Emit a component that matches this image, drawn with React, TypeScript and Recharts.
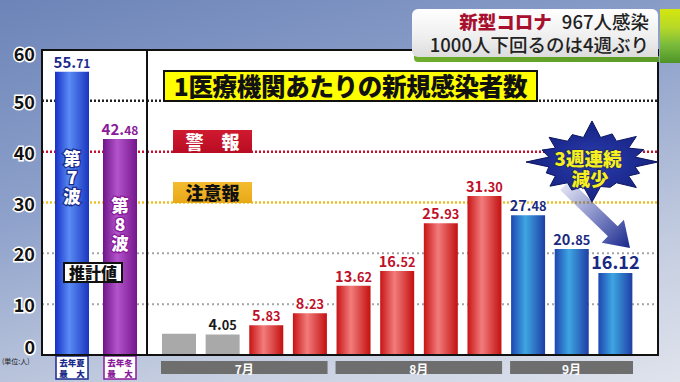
import { BarChart, Bar, XAxis, YAxis, CartesianGrid, Cell, LabelList } from 'recharts'

// left panel: last year's peaks
const waveNames = ['第7波', '第8波']
const waveCaps = [['去年夏', '最　大'], ['去年冬', '最　大']]
const waveValues = [55.71, 42.48]

// right panel: weekly figures
const weeks = ['7月1', '7月2', '7月3', '7月4', '8月1', '8月2', '8月3', '8月4', '9月1', '9月2', '9月3']
const weekMonths = ['7月', '7月', '7月', '7月', '8月', '8月', '8月', '8月', '9月', '9月', '9月']
const weekValues = [4.2, 4.05, 5.83, 8.23, 13.62, 16.52, 25.93, 31.3, 27.48, 20.85, 16.12]
const weekTrend = ['base', 'base', 'up', 'up', 'up', 'up', 'up', 'up', 'down', 'down', 'down']
const weekLabeled = [false, true, true, true, true, true, true, true, true, true, true]

const yTicks = [0, 10, 20, 30, 40, 50, 60]

const FONT = "'Noto Sans CJK JP', 'Noto Sans', sans-serif"
const H = 382
const TOP = 50
const AX_H = 27
const A_W = 147
const B_W = 511
const PAD_L = 10, PAD_R = 21
const STEP = (B_W - PAD_L - PAD_R) / weeks.length

const waveFill = ['url(#gW7)', 'url(#gW8)']
const waveInk = ['#1a2a8c', '#8a1a9a']
const trendFill: Record<string, string> = { base: '#a9a9a9', up: 'url(#gRed)', down: 'url(#gBlue)' }
const trendInk: Record<string, string> = { base: '#1a1a1a', up: '#c0102a', down: '#1a2a80' }

const waveData = waveNames.map((n, i) => ({ name: n, v: waveValues[i] }))
const weekData = weeks.map((w, i) => ({ week: w, v: weekValues[i] }))

function YTick(p: any) {
  const v = p.payload.value
  const dy = v === 0 ? -9 : v === 60 ? 3 : 0
  return (
    <text x={35} y={p.y + dy} textAnchor="end" dominantBaseline="central" fontFamily={FONT}
      fontSize={18} fontWeight={700} fill="#111" stroke="#fff" strokeWidth={3} paintOrder="stroke">{v}</text>
  )
}

function WaveTick(p: any) {
  const i = p.index ?? p.payload?.index ?? 0
  const c = waveInk[i]
  return (
    <g fontFamily={FONT}>
      <rect x={p.x - 16} y={356} width={32} height={23} fill="#fff" stroke={c} strokeWidth={1.5} />
      <text x={p.x} y={366} textAnchor="middle" fontSize={8.5} fontWeight={900} fill={c}>{waveCaps[i][0]}</text>
      <text x={p.x} y={377} textAnchor="middle" fontSize={8.5} fontWeight={900} fill={c}>{waveCaps[i][1]}</text>
    </g>
  )
}

// month band: the label is drawn by the last week of each month so later bands don't cover it
function MonthTick(p: any) {
  const i = p.index ?? p.payload?.index ?? 0
  const m = weekMonths[i]
  const first = i === 0 || weekMonths[i - 1] !== m
  const last = i === weekMonths.length - 1 || weekMonths[i + 1] !== m
  const x0 = p.x - STEP / 2 + (first ? 4 : -0.5)
  const x1 = p.x + STEP / 2 - (last ? 4 : -0.5)
  let n = 0
  if (last) for (let k = i; k >= 0 && weekMonths[k] === m; k--) n++
  return (
    <g fontFamily={FONT}>
      <rect x={x0} y={361} width={x1 - x0} height={13} fill="#6e6e6e" />
      {last && (
        <text x={p.x - ((n - 1) * STEP) / 2} y={368} textAnchor="middle" dominantBaseline="central"
          fontSize={12} fontWeight={700} fill="#fff">{m}</text>
      )}
    </g>
  )
}

function numText(v: number, x: number, y: number, size: number, ink: string, small: number) {
  const [a, b] = v.toFixed(2).split('.')
  return (
    <text x={x} y={y} textAnchor="middle" fontFamily={FONT} fontWeight={700} fill={ink}
      stroke="#fff" strokeWidth={2} paintOrder="stroke">
      <tspan fontSize={size}>{a}.</tspan>
      <tspan fontSize={size * small}>{b}</tspan>
    </text>
  )
}

function WaveValue(p: any) {
  const i = waveValues.indexOf(p.value)
  return numText(p.value, p.x + p.width / 2, p.y - 4, 15, waveInk[i], 0.8)
}

// vertical name written down the bar, one glyph per line
function WaveName(p: any) {
  const i = waveNames.indexOf(p.value)
  const chars = [...String(p.value)]
  const cx = p.x + p.width / 2
  const y0 = p.y + p.height * 0.3
  return (
    <text x={cx} y={y0} textAnchor="middle" dominantBaseline="central" fontFamily={FONT}
      fontSize={17.5} fontWeight={900} fill="#fff" stroke={waveInk[i]} strokeWidth={2.5} paintOrder="stroke">
      {chars.map((ch, k) => (
        <tspan key={k} x={cx} dy={k === 0 ? 0 : 19}>{ch}</tspan>
      ))}
    </text>
  )
}

function WeekValue(p: any) {
  const i = weekValues.indexOf(p.value)
  if (!weekLabeled[i]) return null
  const latest = i === weekValues.length - 1
  return numText(p.value, p.x + p.width / 2, p.y - 4, latest ? 18 : 14.5, trendInk[weekTrend[i]], latest ? 1 : 0.88)
}

function Grid() {
  return [
    <CartesianGrid key="g1" vertical={false} horizontalValues={[10, 20]} stroke="#a5a5a5" strokeWidth={2} strokeDasharray="2 3" />,
    <CartesianGrid key="g2" vertical={false} horizontalValues={[30]} stroke="#eec020" strokeWidth={2.5} strokeDasharray="2 2" />,
    <CartesianGrid key="g3" vertical={false} horizontalValues={[40]} stroke="#c8102e" strokeWidth={2.5} strokeDasharray="2 2" />,
    <CartesianGrid key="g4" vertical={false} horizontalValues={[50]} stroke="#222" strokeWidth={2.5} strokeDasharray="2 2" />,
  ]
}

function hGrad(id: string, edge: string, hi: string, edge2: string) {
  return (
    <linearGradient id={id} x1="0" y1="0" x2="1" y2="0">
      <stop offset="0%" stopColor={edge} />
      <stop offset="42%" stopColor={hi} />
      <stop offset="100%" stopColor={edge2} />
    </linearGradient>
  )
}

function Callout() {
  const cx = 592, cy = 162
  const k = [1, 0.78, 0.95, 0.72, 1.05, 0.8, 0.9, 0.75, 1, 0.82, 0.92, 0.78, 1.08, 0.8, 0.95, 0.85]
  const pts: string[] = []
  k.forEach((r, j) => {
    const a0 = (j / k.length) * Math.PI * 2
    const a1 = ((j + 0.5) / k.length) * Math.PI * 2
    pts.push(`${cx + Math.cos(a0) * 66 * r},${cy + Math.sin(a0) * 38 * r}`)
    pts.push(`${cx + Math.cos(a1) * 44},${cy + Math.sin(a1) * 25}`)
  })
  return (
    <svg width={680} height={382} style={{ position: 'absolute', left: 0, top: 0, pointerEvents: 'none' }}>
      <defs>
        <linearGradient id="gArrow" gradientUnits="userSpaceOnUse" x1={565} y1={185} x2={630} y2={248}>
          <stop offset="0%" stopColor="#2a3aa8" stopOpacity={0.15} />
          <stop offset="100%" stopColor="#18268a" />
        </linearGradient>
        <radialGradient id="gStar" cx="50%" cy="50%" r="60%">
          <stop offset="0%" stopColor="#2a3cb0" />
          <stop offset="100%" stopColor="#121e78" />
        </radialGradient>
      </defs>
      <polygon points="569.9,180 617.7,226.3 623.9,219.8 630,248 601.7,242.8 607.9,236.3 560.1,190" fill="url(#gArrow)" />
      <polygon points={pts.join(' ')} fill="url(#gStar)" stroke="#0c1560" strokeWidth={1} />
      <g fontFamily={FONT} fontWeight={900} fill="#f6f020" stroke="#202a70" strokeWidth={2} paintOrder="stroke" textAnchor="middle">
        <text x={588} y={166} fontSize={18.5}>3週連続</text>
        <text x={590} y={186} fontSize={18.5}>減少</text>
      </g>
    </svg>
  )
}

export default function App() {
  return (
    <div style={{
      position: 'absolute', left: 0, top: 0, width: 680, height: H, overflow: 'hidden', fontFamily: FONT,
      background: 'linear-gradient(165deg, #6c84b8 0%, #8fa2cb 40%, #c4cde0 75%, #dfe3ec 100%)',
    }}>
      <div style={{ position: 'absolute', left: 42, top: TOP, width: 616, height: 305, background: '#fff' }} />

      <BarChart width={A_W} height={H} data={waveData} margin={{ top: TOP, right: 0, bottom: 0, left: 0 }}
        style={{ position: 'absolute', left: 0, top: 0 }}>
        <defs>
          {hGrad('gW7', '#1530c8', '#5a8cf4', '#1a36c0')}
          {hGrad('gW8', '#6e1488', '#b454cc', '#74168c')}
        </defs>
        {Grid()}
        <XAxis dataKey="name" interval={0} height={AX_H} axisLine={false} tickLine={false} tickSize={0} tickMargin={0}
          padding={{ left: 6, right: 3 }} tick={WaveTick} />
        <YAxis domain={[0, 60]} ticks={yTicks} width={42} axisLine={false} tickLine={false} tick={YTick} />
        <Bar dataKey="v" barSize={34} isAnimationActive={false}>
          {waveData.map((_, i) => <Cell key={i} fill={waveFill[i]} />)}
          <LabelList dataKey="v" content={WaveValue} />
          <LabelList dataKey="name" content={WaveName} />
        </Bar>
      </BarChart>

      <BarChart width={B_W} height={H} data={weekData} margin={{ top: TOP, right: 0, bottom: 0, left: 0 }}
        style={{ position: 'absolute', left: A_W, top: 0 }}>
        <defs>
          {hGrad('gRed', '#c81414', '#f27c7c', '#c41010')}
          {hGrad('gBlue', '#1d46b0', '#3ea6e2', '#1f3ea6')}
        </defs>
        {Grid()}
        <XAxis dataKey="week" interval={0} height={AX_H} axisLine={false} tickLine={false} tickSize={0} tickMargin={0}
          padding={{ left: PAD_L, right: PAD_R }} tick={MonthTick} />
        <YAxis hide domain={[0, 60]} ticks={yTicks} />
        <Bar dataKey="v" barSize={34} isAnimationActive={false}>
          {weekData.map((_, i) => <Cell key={i} fill={trendFill[weekTrend[i]]} />)}
          <LabelList dataKey="v" content={WeekValue} />
        </Bar>
      </BarChart>

      {/* panel frame */}
      <div style={{ position: 'absolute', left: 41, top: TOP - 1, width: 618, height: 307, border: '2px solid #111', boxSizing: 'border-box', pointerEvents: 'none' }} />
      <div style={{ position: 'absolute', left: 146, top: TOP, width: 2, height: 305, background: '#111' }} />

      <div style={{ position: 'absolute', left: 2, top: 356, fontSize: 7, color: '#222', whiteSpace: 'nowrap' }}>(単位:人)</div>

      <div style={{
        position: 'absolute', left: 63, top: 262, width: 60, height: 21, background: '#fff', border: '2px solid #111',
        boxSizing: 'border-box', fontSize: 16, fontWeight: 900, lineHeight: '17px', textAlign: 'center', color: '#111',
      }}>推計値</div>

      <div style={{
        position: 'absolute', left: 163, top: 70, width: 375, height: 32, background: '#ffff00', border: '2px solid #111',
        boxSizing: 'border-box', fontSize: 24.5, fontWeight: 900, lineHeight: '28px', textAlign: 'center', color: '#111',
        letterSpacing: -0.3, whiteSpace: 'nowrap',
      }}>1医療機関あたりの新規感染者数</div>

      <div style={{
        position: 'absolute', left: 173, top: 130, width: 79, height: 23, background: 'linear-gradient(#d01a30, #b80c22)',
        fontSize: 18, fontWeight: 900, lineHeight: '23px', textAlign: 'center', color: '#fff', whiteSpace: 'pre',
      }}>警　報</div>
      <div style={{
        position: 'absolute', left: 173, top: 182, width: 79, height: 21, background: 'linear-gradient(#f4bc30, #e8a818)',
        fontSize: 18, fontWeight: 900, lineHeight: '21px', textAlign: 'center', color: '#111',
      }}>注意報</div>

      <Callout />

      {/* caption */}
      <div style={{ position: 'absolute', left: 660, top: 9, width: 20, height: 54, background: 'linear-gradient(#d4e60e 0%, #b6d828 35%, #7cbc3c 65%, #4e9428 100%)' }} />
      <div style={{ position: 'absolute', left: 414, top: 56, width: 245, height: 6, background: 'linear-gradient(90deg, #6fae2c, #5a9a26)', borderRadius: '0 0 0 4px' }} />
      <div style={{
        position: 'absolute', left: 412, top: 9, width: 246, height: 48, background: 'linear-gradient(#ffffff, #eeeeee 60%, #dcdcdc)',
        borderRadius: '6px 6px 0 6px', boxSizing: 'border-box', paddingRight: 9, textAlign: 'right', color: '#222',
      }}>
        <div style={{ fontSize: 18.5, lineHeight: '24px', fontWeight: 500, whiteSpace: 'nowrap' }}>
          <span style={{ color: '#a8102e', fontWeight: 900, marginRight: 10 }}>新型コロナ</span>967人感染
        </div>
        <div style={{ fontSize: 18.5, lineHeight: '22px', fontWeight: 500, whiteSpace: 'nowrap' }}>1000人下回るのは4週ぶり</div>
      </div>
    </div>
  )
}
